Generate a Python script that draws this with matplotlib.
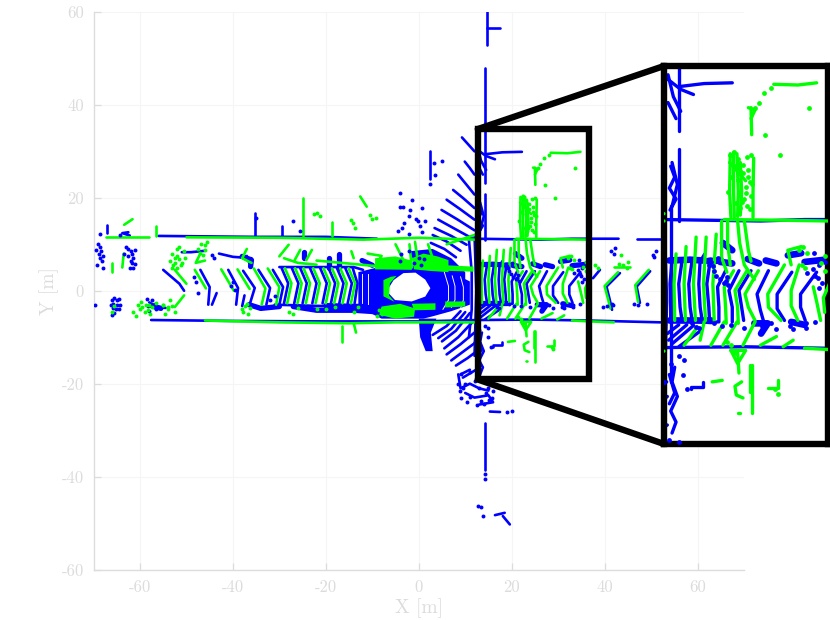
import matplotlib
matplotlib.use('Agg')
import matplotlib.pyplot as plt
from matplotlib.patches import ConnectionPatch, Rectangle

plt.rcParams['font.family'] = ['cmr10', 'DejaVu Serif']
plt.rcParams['axes.unicode_minus'] = False
plt.rcParams['axes.formatter.use_mathtext'] = True

# ticks
x_ticks = [-60, -40, -20, 0, 20, 40, 60]
y_ticks = [-60, -40, -20, 0, 20, 40, 60]

# road edges and poles, one polyline per entry, in metres
blue_lines = [
    [(-57.6, -6.3), (-40, -6.5), (-20, -6.6), (0, -6.6), (13, -6.3), (24, -6.2), (36, -6.4), (52, -6.8)],
    [(-56, 11.8), (-35, 11.6), (-20, 11.6), (-9, 11.2)],
    [(12, 11.2), (26.4, 11.0), (33, 11.2), (43, 11.2)],
    [(47, 11.2), (52, 11.2)],
    [(-35.2, 16.7), (-35.2, 11.7)],
    [(-67.1, 14.2), (-67.1, 12.4)],
    [(-29.5, 14), (-29.5, 11.7)],
    [(14.3, 48), (14.3, 23.3)],
    [(14.2, 20.8), (14.2, 11)],
    [(13, 18.5), (13.6, 17), (12.8, 15.5), (13.8, 14), (12.9, 12.5)],
    [(13.2, 19), (14, 16), (13.2, 13)],
    [(14.4, 29.4), (18, 29.8), (22.2, 29.9)],
    [(12.4, 30.5), (14.5, 29), (16.4, 28.3)],
    [(12.6, 31), (13.4, 28), (14.5, 26)],
    [(12.6, 27.2), (13.8, 25)],
    [(14.2, -28.5), (14.2, -38.5)],
    [(15.3, -26), (17.5, -26.1)],
    [(16.4, -48.3), (18.5, -47.8)],
    [(18.1, -48.5), (19.6, -50.3)],
    [(14.7, 60), (14.7, 53)],
    [(14.7, 56.5), (17.5, 56.5)],
    [(2.5, 30), (2.5, 24)],
    [(-58, -2.5), (-56.5, -3.4), (-54.5, -3.7)],
    [(-62.5, 12.6), (-63.8, 12.4), (-62.2, 11.9)],
    [(-43, 8), (-40, 7.3), (-36, 7)],
    [(-51, 8.3), (-49, 8.3), (-46, 8.6)],
    [(-37, 7.5), (-36.2, 5.2)],
    [(-37.5, -1), (-38, -3.3)],
    [(18.1, 6.5), (17.5, 5.6), (19, 5.8)],
    [(16, -12), (16, -11.7), (17.9, -11.7), (17.9, -11)],
    [(13.6, -9), (13.2, -11), (14, -13), (13, -15), (13.8, -16.5), (13.2, -18)],
    [(12.8, -10), (13.6, -12.5), (12.8, -14)],
    [(8.5, -18), (9, -21), (11, -20), (13, -21), (15, -21.5)],
    [(10, -22), (12, -23), (15, -22.5), (16, -24), (13, -24.5)],
    [(11, -17), (9, -18)],
]

# blobs on the row above and below the chevrons, drawn thicker
blue_thick = [
    [(12.8, 5.6), (15.8, 5.7)],
    [(16, 5.7), (17.8, 5.6)],
    [(18.6, 5.5), (20.5, 5.6)],
    [(20.4, 5.4), (22.2, 5.2)],
    [(24.5, 5.8), (26.2, 5.2)],
    [(27.2, 5.6), (28.8, 5.2)],
    [(30.5, 6.3), (32.5, 6.6)],
    [(33, 5.4), (36, 5.7)],
    [(20.8, 8), (22.2, 7)],
    [(12.8, -2.6), (19, -2.6)],
    [(25.5, -3), (27.5, -3), (26.5, -4.4)],
    [(31, -2.8), (33, -3.2)],
    [(-24.8, 8.4), (-24.8, 7)],
    [(-19.4, 7), (-19.4, 5)],
    [(-17.2, 8), (-17.2, 5)],
    [(-12.2, 6.5), (-10, 5.5)],
    [(-38, 7.4), (-36, 6.6), (-36.2, 5.2)],
    [(-57.5, -3.2), (-55.5, -3.8)],
    [(-36.5, -3), (-34, -3.8), (-30, -3.4)],
    [(-27, -3.4), (-22, -4.2), (-14, -4.2), (-8, -4.6)],
    [(-20, -3.2), (-12, -3.4)],
]
green_lines = [
    [(-67.3, 11.5), (-58, 11.5)],
    [(-56.5, 14), (-56.5, 11.7)],
    [(-50, 11.5), (-30, 11.4), (-12, 11), (0, 11.4), (12, 11)],
    [(21, 11.2), (30, 11.1), (36.5, 11)],
    [(-46, -6.4), (-30, -6.8), (-15, -7.0), (-5, -6.8), (12, -6.8)],
    [(33, -6.4), (37, -6.6), (42, -6.8)],
    [(-63.4, 14.2), (-61.6, 15.4)],
    [(-25, 20), (-25, 11.7)],
    [(-18.7, 14.9), (-18.7, 11.7)],
    [(-12.6, 20.3), (-11.2, 18.1)],
    [(-66, 6), (-66, 4)],
    [(-63.5, 8), (-63.8, 5)],
    [(-16.6, -7.5), (-16.6, -11)],
    [(-14, -7), (-13.5, -9)],
    [(28.4, 29.7), (32, 29.6), (34.8, 29.9)],
    [(25.0, 26.5), (25.1, 22.8)],
    [(24.6, 26.5), (25.6, 26.2), (25, 25)],
    [(21.9, 20.2), (21.8, 15), (22, 11.5)],
    [(22.4, 20.4), (22.4, 15), (22.5, 11.5)],
    [(22.9, 20.2), (23.1, 15), (23, 11.6)],
    [(23.4, 19), (23.6, 15), (23.4, 11.8)],
    [(25.4, 19.6), (25.3, 15), (25.3, 11.5)],
    [(21.8, 19), (24.2, 16.5)],
    [(22, -6.7), (23, -8.5), (24.2, -6.7), (22, -6.7)],
    [(23, -7), (23.2, -9.8)],
    [(25.1, -8.7), (25.1, -15.3)],
    [(24.8, -8.7), (24.8, -12.4)],
    [(23.6, -11), (22.6, -11.6), (22.8, -12.8), (23.8, -13.2)],
    [(19.2, -11), (20.7, -10.8)],
    [(27.6, -11.9), (29.1, -11.9), (29.1, -10.7)],
    [(23, -15.2), (23.4, -15.2)],
    [(-28, 9.9), (-30, 7.4)],
    [(-25.5, 8.8), (-26.7, 6.6)],
    [(-23, 8.8), (-24.2, 6.6)],
    [(6, 10), (12, 12)],
    [(-29, 7), (-26, 6), (-22, 5.6)],
    [(-14.5, 8.5), (-14, 7)],
    [(-11, 8), (-8, 7.5), (-9, 6)],
    [(-5, 10), (-3, 6)],
    [(2, 10), (3, 7)],
    [(42, 5.2), (45.5, 5.2)],
    [(34.3, 2), (34.8, 0), (35.4, -2.6)],
    [(31, 5), (30.5, 7), (32.5, 7.5)],
    [(-47, 8), (-48, 6), (-46, 6.5)],
    [(-37, 9), (-38, 7), (-36, 6)],
    [(-2, 10), (-1.5, 5)],
    [(-0.8, 10.5), (0, 5)],
    [(-22, 6.5), (-8, 5.2)],
]

# scan rings seen as chevrons on the road, ahead of the car
blue_ribs = [
    [(-55, 4.5), (-51.5, 1.5), (-50.5, 0)],
    [(-47, 4.5), (-45, 0.8), (-45.3, -3)],
    [(-43.5, -0.5), (-44.5, -3)],
    [(-41, 4.5), (-38.9, 0.6), (-39.3, -3)],
    [(-37.8, 4.3), (-35.3, 0.6), (-36.4, -3)],
    [(-34.5, 4.5), (-32, 0.6), (-32.8, -3)],
    [(-31.4, 4.5), (-29.2, 0.8), (-30, -3)],
    [(-29.5, 4.85), (-28.1, 1.6), (-29, -2.7)],
    [(-27.3, 4.85), (-25.9, 1.6), (-26.8, -2.7)],
    [(-25.5, 4.85), (-24.1, 1.6), (-25, -2.7)],
    [(-23.4, 4.85), (-22, 1.6), (-22.9, -2.7)],
    [(-21.2, 4.85), (-19.8, 1.6), (-20.7, -2.7)],
    [(-19.4, 4.85), (-18, 1.6), (-18.9, -2.7)],
    [(-17.6, 4.85), (-16.2, 1.6), (-17.1, -2.7)],
    [(-15.8, 4.85), (-14.4, 1.6), (-15.3, -2.7)],
    [(-14.2, 4.85), (-13.2, 1.6), (-13.8, -2.7)],
    [(13.2, 5.6), (12.9, 2.4), (13, -0.8), (13, -2.6)],
    [(14.7, 5.6), (14.2, 2.4), (14.4, -0.8), (14.7, -2.6)],
    [(16.2, 5.6), (15.7, 2.4), (15.9, -0.8), (16.2, -2.6)],
    [(17.4, 5.6), (17.2, 2.4), (17.4, -0.8), (17.7, -2.6)],
    [(18.9, 5.6), (18.4, 2.4), (18.7, -0.8), (18.8, -2.6)],
    [(21.2, 4.2), (20, 2), (20.2, -0.8), (20.2, -2.8)],
    [(23.2, 4.2), (21.7, 1.5), (22.2, -0.8), (22.2, -2.8)],
    [(25, 4.2), (23.2, 1.5), (23.6, -0.8), (23.9, -2.6)],
    [(27.6, 4.2), (25.9, 1), (26.4, -1.2), (26.9, -2.8)],
    [(31.1, 4), (28.9, 1), (28.9, -1), (30, -2.6)],
    [(34.8, 4), (32.4, 1), (32.4, -0.8), (33.1, -2.6)],
    [(39, 4.5), (37.5, 2.7)],
    [(43.3, 3.8), (40.4, 0.9), (41.1, -1.9), (41.6, -4.1)],
    [(49.8, 4.2), (46.9, 0.9), (47.6, -2.6)],
]
green_ribs = [
    [(-52.5, 4.5), (-50, 1.5)],
    [(-48.2, 4.5), (-45.8, 0.5)],
    [(-42.5, 4.6), (-39.8, 0)],
    [(-39, 4.6), (-36.4, 0.4)],
    [(-35.5, 4.8), (-33, 0.5), (-33.8, -3)],
    [(-32.5, 4.8), (-30, 0.8), (-30.7, -3)],
    [(-28.8, 4.85), (-27.4, 1.6), (-28.3, -2.7)],
    [(-26.6, 4.85), (-25.2, 1.6), (-26.1, -2.7)],
    [(-24.8, 4.85), (-23.4, 1.6), (-24.3, -2.7)],
    [(-22.7, 4.85), (-21.3, 1.6), (-22.2, -2.7)],
    [(-20.5, 4.85), (-19.1, 1.6), (-20, -2.7)],
    [(-18.7, 4.85), (-17.3, 1.6), (-18.2, -2.7)],
    [(-16.9, 4.85), (-15.5, 1.6), (-16.4, -2.7)],
    [(-15.1, 4.85), (-13.7, 1.6), (-14.6, -2.7)],
    [(13.8, 6.5), (13.5, 2.4), (13.6, -2.6)],
    [(15.3, 7.5), (15, 2.4), (15.2, -2.6)],
    [(16.8, 8.8), (16.4, 2.4), (16.7, -2.6)],
    [(18.3, 8.8), (17.9, 2.4), (18.2, -2.6)],
    [(19.8, 9.2), (19.3, 2.4), (19.5, -2.6)],
    [(20.6, 11), (20.6, 6), (21.4, 4)],
    [(21.5, 11), (21.5, 8), (21.9, 5)],
    [(23, 11), (23.3, 8), (24, 5), (25.5, 3)],
    [(24, 11), (24.6, 7), (25, 5.5)],
    [(22.4, 4.2), (21, 2), (21.2, -0.8), (21.3, -3)],
    [(24.4, 4.2), (22.6, 1.5), (23, -0.8), (23.1, -3)],
    [(26.1, 4.2), (24.1, 1), (24.6, -0.8), (25.6, -2.6)],
    [(30, 5), (27.5, 1), (27.6, -0.8), (29.5, -2.6)],
    [(32.2, 5), (31, 1.5), (31, -0.6), (32, -2.6)],
    [(37, 3), (35.8, 0.5), (36, -1.5)],
    [(42.9, 4), (40, 1), (40.8, -2), (41.2, -3.8)],
    [(49.5, 4.5), (46.6, 1.2), (47.2, -2.4)],
    [(25.6, -2.8), (23.8, -6)],
    [(22.9, -2.8), (20.8, -6)],
    [(21, -2.8), (19, -6)],
    [(18, -2.8), (17.4, -5.3)],
    [(28.8, -4.8), (26.4, -6)],
    [(31.3, -5.3), (29.8, -6.2)],
    [(17, -3.5), (15, -6)],
    [(-50.5, -1), (-52.5, -3.5)],
]
blue_road_fan = [
    [(16.4, -3.3), (13.2, -5.8)],
    [(15.4, -3.2), (12.7, -5.3)],
    [(14.2, -3.2), (12.5, -4.4)],
    [(17.5, -4), (14.2, -6.2)],
    [(-31, -3), (-13, -3.5)],
    [(-30, 5.1), (-14, 5.1), (-12, 4.5)],
    [(14, -2.6), (19, -2.9), (20, -2.8)],
]

# concentric arcs beside the car
blue_fan_upper = [
    [(9.3, 33), (12, 30)],
    [(9.9, 27.8), (11, 26.4), (12, 25)],
    [(8.5, 25), (10.3, 22.8), (12, 20.7)],
    [(7.4, 21.7), (9.6, 19.9), (12, 17.8)],
    [(6, 19.6), (9, 17.5), (12, 15.3)],
    [(4.9, 17.4), (8.4, 15.3), (12, 13)],
    [(4.2, 15.3), (8, 13.2), (12, 11)],
    [(3.4, 13.5), (7, 11.8), (10.3, 9.9)],
    [(3, 12), (6, 10.6), (9, 8.6)],
    [(2.6, 10.3), (5.5, 9), (8, 7.2)],
]
blue_fan_lower = [
    [(3, -9.5), (6, -7.6), (9, -4.4)],
    [(4.2, -10.2), (7, -8.2), (10, -4.6)],
    [(5, -10.9), (8, -8.6), (11, -4.8)],
    [(5.5, -12.4), (8.5, -10), (11.8, -6.5)],
    [(6, -13.7), (9, -11.5), (12, -9)],
    [(7, -15), (9.7, -13), (12.4, -11)],
    [(8, -16.1), (10.5, -14.5), (12.5, -13)],
    [(9.5, -18.7), (11, -17.8), (12.5, -16.9)],
]
blue_wall_right = [
    [(10.8, 11), (11.4, 4), (11.4, -4), (10.8, -10)],
    [(12, 12), (12.4, 0), (12, -14)],
    [(13, 13), (13, 5), (13, -11)],
]

# dense returns around the ego vehicle, as outlines
blue_core_x = [-13, -9, -3, 3, 8, 11, 11, 7, 3, 1, -2, -8, -13]
blue_core_y = [4, 5, 5.5, 5.2, 3.5, 2, -3, -4.4, -5.5, -6, -6, -6, -3.5]
blue_low_x = [0, 3.8, 2.6, 3, 1.5, 0.3]
blue_low_y = [-6, -6, -9, -13, -13, -10]
blue_near_x = [-2, 3, 7, 10, 10, 5, 0]
blue_near_y = [8.5, 9, 7, 4, 2, 3, 4]
hole_x = [-6.5, -5.4, -3.3, -0.7, 1.4, 2.5, 1.4, -1.5, -5.1, -6.5]
hole_y = [0.55, 2.3, 3.8, 3.9, 2.4, 0.55, -1.25, -2.3, -2, -0.5]
ring_gap_lines = [
    [(5.5, 4), (6.4, 1), (6.4, -2), (5.2, -4)],
    [(7.2, 3.2), (7.8, 1), (7.8, -2), (7, -3.6)],
    [(9, 3), (9.6, 0.8), (9.6, -2), (9, -3.8)],
    [(-11, 3.6), (-11, -2.8)],
    [(-12.2, 3.6), (-12.2, -2.8)],
]

# green patches, outlines
green_band_x = [5.7, 11.8, 11.8, 5.7]
green_band_y = [5.5, 5.2, 4.1, 4.3]
green_top_x = [-1.5, 1, 4, 6.4, 6.4, 2, -1]
green_top_y = [7, 8, 7.4, 6.6, 4, 4.3, 4.6]
green_left_x = [-7.6, -6, -4.8, -6.2, -6.4, -5.2, -7.6]
green_left_y = [2.3, 3, 3.2, 1.6, -1, -2.4, -1.2]
green_bottom_x = [-1.5, 3.6, 3.6, -1]
green_bottom_y = [-2.8, -2.7, -4.1, -4.2]
green_bl_x = [-8, -4, -0.8, -1, -5, -8.5]
green_bl_y = [-3.4, -2.8, -3.8, -5.6, -6, -5.2]
green_br_x = [5.7, 10, 10, 5.7]
green_br_y = [-2.3, -2.3, -3.4, -3.6]
green_upl_x = [-9.4, -5, -1.5, -1.5, -9.4]
green_upl_y = [7, 7.4, 6.5, 4.5, 4.6]

# single returns
blue_pts_x = [-69, -68.5, -68.3, -68.9, -68, -68.6, -68.2, -69.2, -68, -69.5,
              -63, -62.5, -62, -61.7, -62.5, -61.5, -62, -61.8, -61.5, -62.2, -61, -63.5, -61.1,
              -66, -65.5, -65, -64.5, -66.3, -65.7, -65, -64.4, -65.8, -65.2, -64.6, -65.5, -69.6, -66,
              -58.4, -57.4, -57, -56.6, -58.2, -57, -58, -56.8, -68.7, -64.2,
              -48.3, -35, -48, -47.6, -44.5, -44, -40.4, -40, -39.5, -31, -32, -27, -25.5,
              -4, -3.4, -1.8, -0.5, -0.2, 0.8, 1.4, -4.5, -3.5, -2, 0.8,
              5, 3.2, 3.4, 2.5, -2, -4, -3.2, -1.4, 0.2,
              -3.8, -2, 0, 1.2, -4, -1, 0.5,
              15, 14.8, 15.5, 13, 12, 14.2,
              9, 8.5, 9.5, 10, 11, 12, 13, 14.5, 15, 16, 15.8, 15.2, 14, 13.3, 9.2, 8.8, 11, 10.4, 12.5,
              19, 20, 14.2, 14.2, 12.8, 13.3, 13.8,
              19.8, 20.3, 20.9, 21.4, 21.5, 21.2, 33.4, 34.3, 35, 35.6, 34.6, 35.2,
              18.7, 19.3, 19, 19.5, 20, 36, 35.7, 35.2, 34.4,
              41.4, 42, 42.3, 41.7, 50.5, 51, 50.7, 39.7, 40.5, 41.5, 46.4, 47.2, 49.2,
              20.6, 19.4, 16.2, 16.8, 17.2, 22, 24, 26.6, 28, 28.8,
              33.2, 34.6, 30.8, 33.2, 31.2, 12.8, 14.2]
blue_pts_y = [10, 9.5, 8.5, 8, 7.5, 7, 6.5, 5.5, 5, 8.8,
              9.5, 9, 8.5, 8, 7.5, 7, 6.5, 6, 5, 4.8, 8.7, 8, 5.8,
              -2, -1.5, -2, -1.8, -3, -2.8, -3, -3, -3.8, -4, -4, -4.8, -3, -5.3,
              -1.8, -2, -3, -4, -3.2, -3.6, -4.4, -2.8, 12.2, 12,
              3, 15.7, 1.8, -0.5, 7.8, 7, 1, 1.8, 0.2, -1.2, -2, 15, 12.8,
              21, 18, 17.3, 15.5, 15, 17.8, 15, 12.8, 13.5, 12.2, 12.6,
              28, 27.5, 25, 23, 16, 18, 14.5, 19.5, 14,
              8, 8.5, 7, 6.8, 6.5, 6, 5.6,
              -8, -10, -12, -8.5, -11, -7.5,
              -18, -20, -21, -20, -17.5, -19.5, -21, -22, -21, -21.5, -23, -23.6, -24.4, -23.8, -23, -21.5, -22.8, -24, -24.6,
              -26, -25.8, -39.5, -40.5, -46.4, -46.5, -48.5,
              3.5, 3, 2.5, 3.3, 2.2, 2.8, 3.9, 4.5, 3.2, 2.5, 3.5, 1.8,
              5, 4.8, 5.4, 4.2, 6, 5.4, 5.8, 5, 6.6,
              8.5, 8, 9.2, -3, 7.8, 8.6, 7.2, -3.4, -3.2, -2.8, -2.9, -3, -2.8,
              -3.3, -2.9, -3, -3.5, -3.7, -3.2, -3.6, -3.4, -3, -3.8,
              -3, -2.8, -3.4, -3.6, -3.8, -19, -19.2]

green_pts_x = [-53, -52, -52.5, -53.5, -51.5, -52.8, -52, -51, -50.2, -53.2, -52, -50.6, -51.6, -52.4, -51.2,
               -58, -57.4, -56.5, -55, -54, -60.5, -60, -59.5, -59, -58.2, -59.8, -58.6, -57.8,
               -55, -54, -53, -52.4, -54.6, -53.6,
               -47.5, -46.8, -46, -45.5, -47, -46, -46.5,
               -38, -37.4, -36.8, -36.4, -37.8, -37, -65.6, -66, -61.5, -60.8,
               -22.5, -21.8, -21.3, -14.5, -14.2, -13.8, -10.5, -10, -9.2,
               -28, -27, -26, -22, -14, -13, -18, -20, -8, -7, -6, -6.5, -8.5, -9,
               25.6, 26.2, 27, 28, 27.1, 33.6, 29.4,
               21.9, 22.4, 23, 24.4, 25, 22.6, 24.6, 23.8, 22, 24.8, 25.2, 24.2, 21.6, 23.2,
               24, 23.6, 24.4, 24.8, 23.4, 23.8, 24.2, 22.8, 23, 25, 24.6, 23.3,
               32.2, 32.8, 33.4, 36, 44, 43.2, 45, 38, 38.5, 44.8, 43.5, 21.4, 22, 22.6, 29, 28.6, 32.6,
               33, 36, 35.4]
green_pts_y = [8, 7.5, 7, 6.5, 6.8, 5.5, 5, 6, 7, 4.8, 9, 8.5, 9.5, 6, 5.5,
               -3, -3.6, -2.6, -3, -3.6, -3, -4, -3.5, -4.6, -4.2, -2.4, -3, -5,
               -3, -4, -3.2, -4.5, -5, -2,
               9, 10, 9.8, 10.6, 8.2, 8.8, 7.6,
               -4, -3.2, -5, -3.8, -4.6, -2.8, -3.2, -4.6, -4.6, -5.4,
               16.5, 16.8, 16, 15.2, 14.5, 13.6, 16.2, 15.4, 15.6,
               -4.5, -5, -3.8, -4, -4.6, -3.6, -3.4, -4, -5, -4.4, -5.2, -4, -4.2, -5.4,
               26.5, 27.2, 28.5, 29.2, 22.8, 26.5, 20,
               20, 20.4, 19.5, 19.7, 20, 18.5, 18, 17.6, 17, 16.4, 16, 15.6, 15, 14.6,
               14, 13.6, 13, 12.6, 12.8, 18.6, 14.8, 13.4, 16.6, 14.4, 17, 17.8,
               7, 7.5, 6.6, 6.2, 5.5, 5.8, 6.2, 5.5, 4.8, 5, 7.6, -5.6, -6, -7, -12.6, -12, 5,
               4.6, 4.2, 5.2]

fig = plt.figure(figsize=(8.3, 6.2), dpi=100)
ax = fig.add_axes([93.5 / 830, (620 - 569.5) / 620, 650.5 / 830, 557.5 / 620])
ins = fig.add_axes([664 / 830, (620 - 444) / 620, 164 / 830, 378 / 620])


def draw_cloud(a, lw, ps):
    for xs, ys in [(blue_core_x, blue_core_y), (blue_low_x, blue_low_y), (blue_near_x, blue_near_y)]:
        a.fill(xs, ys, color='#0000ff', lw=0, zorder=2)
    a.fill(hole_x, hole_y, color='white', lw=0, zorder=2.2)
    for line in ring_gap_lines:
        a.plot(*zip(*line), color='white', lw=lw * 0.35, zorder=2.1)
    for group in [blue_lines, blue_ribs, blue_road_fan, blue_fan_upper, blue_fan_lower, blue_wall_right]:
        for line in group:
            a.plot(*zip(*line), color='#0000ff', lw=lw, solid_capstyle='round', zorder=2.5)
    for line in blue_thick:
        a.plot(*zip(*line), color='#0000ff', lw=lw * 2, solid_capstyle='round', zorder=2.5)
    for xs, ys in [(green_band_x, green_band_y), (green_top_x, green_top_y), (green_left_x, green_left_y),
                   (green_bottom_x, green_bottom_y), (green_bl_x, green_bl_y), (green_br_x, green_br_y),
                   (green_upl_x, green_upl_y)]:
        a.fill(xs, ys, color='#00ff00', lw=0, zorder=3)
    for group in [green_lines, green_ribs]:
        for line in group:
            a.plot(*zip(*line), color='#00ff00', lw=lw, solid_capstyle='round', zorder=3)
    a.scatter(blue_pts_x, blue_pts_y, s=ps, color='#0000ff', lw=0, zorder=3.5)
    a.scatter(green_pts_x, green_pts_y, s=ps, color='#00ff00', lw=0, zorder=3.5)


draw_cloud(ax, 1.9, 8)
draw_cloud(ins, 2.4, 12)

gray = '#dcdcdc'
ax.set_xlim(-70, 70)
ax.set_ylim(-60, 60)
ax.set_xticks(x_ticks, [str(v) for v in x_ticks])
ax.set_yticks(y_ticks, [str(v) for v in y_ticks])
ax.tick_params(direction='in', length=5, width=0.9, color=gray, labelcolor=gray, labelsize=12, pad=7)
ax.grid(True, color='#f5f5f5', lw=0.8)
ax.set_axisbelow(True)
ax.set_xlabel('X [m]', color=gray, fontsize=14, labelpad=3)
ax.set_ylabel('Y [m]', color=gray, fontsize=14, labelpad=2)
for side in ['top', 'right']:
    ax.spines[side].set_visible(False)
for side in ['left', 'bottom']:
    ax.spines[side].set_color(gray)
    ax.spines[side].set_linewidth(1.0)

ins.set_xlim(12, 36.5)
ins.set_ylim(-19.5, 32.2)
ins.set_xticks([])
ins.set_yticks([])
for spine in ins.spines.values():
    spine.set_linewidth(4.6)
    spine.set_color('black')

# box on the main axes and the two lines to the inset
ax.add_patch(Rectangle((12.7, -19.1), 23.9, 53.9, fill=False, ec='black', lw=4.6, zorder=6))
top_link = ConnectionPatch((12.7, 34.8), (0, 1), coordsA=ax.transData, coordsB=ins.transAxes,
                           color='black', lw=4.6, zorder=6)
bottom_link = ConnectionPatch((12.7, -19.1), (0, 0), coordsA=ax.transData, coordsB=ins.transAxes,
                              color='black', lw=4.6, zorder=6)
fig.add_artist(top_link)
fig.add_artist(bottom_link)

fig.savefig('out.png', dpi=100)
